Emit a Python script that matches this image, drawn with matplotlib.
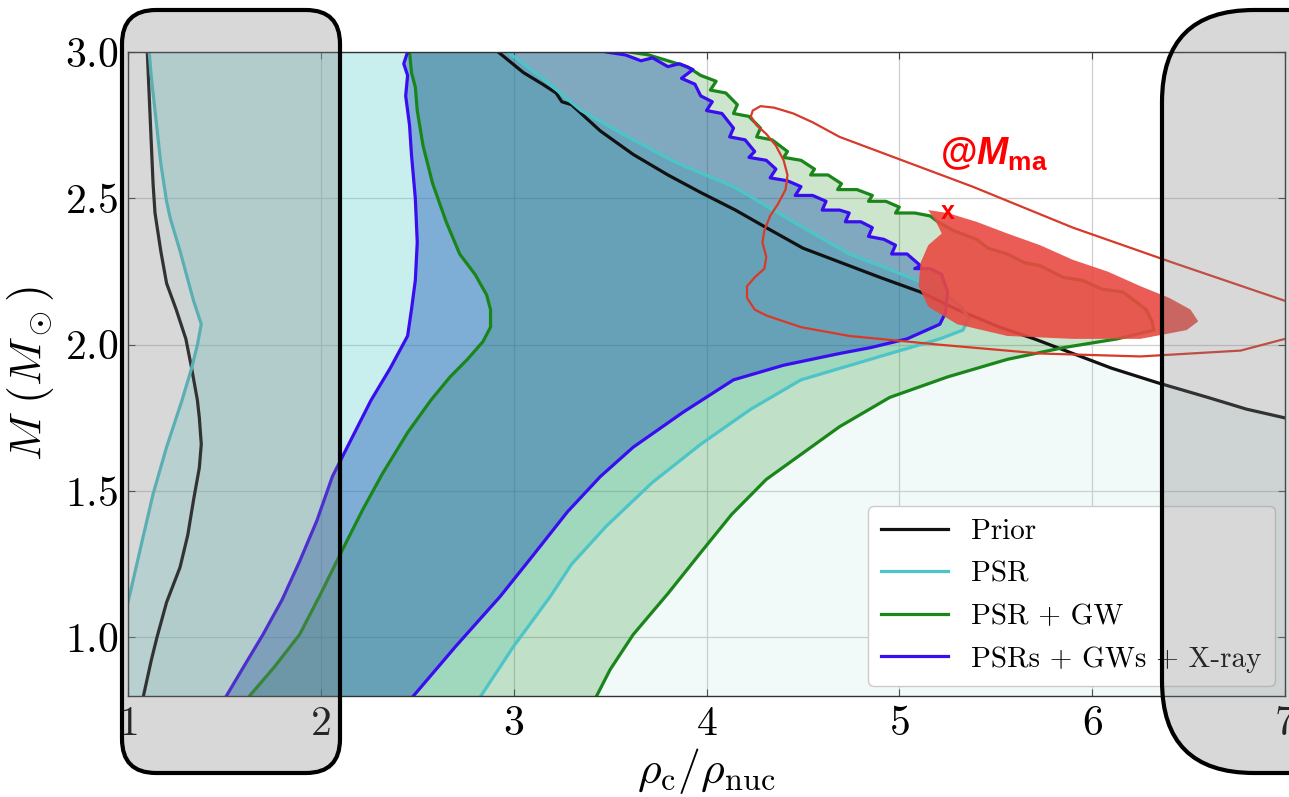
import matplotlib.pyplot as plt
from matplotlib.patches import FancyBboxPatch

plt.rcParams['font.family'] = 'serif'
plt.rcParams['font.serif'] = ['cmr10']
plt.rcParams['mathtext.fontset'] = 'cm'
plt.rcParams['axes.formatter.use_mathtext'] = True
# sans bold set, only used by texts with math_fontfamily='custom'
plt.rcParams['mathtext.rm'] = 'Liberation Sans:bold'
plt.rcParams['mathtext.it'] = 'Liberation Sans:bold:italic'
plt.rcParams['mathtext.bf'] = 'Liberation Sans:bold'

# --- 90% bands in the (rho_c/rho_nuc, M) plane: left edge bottom->top, right edge top->bottom ---
prior_left_x = [1.08, 1.12, 1.15, 1.20, 1.27, 1.31, 1.34, 1.37, 1.38, 1.37, 1.36, 1.33, 1.30, 1.25, 1.20, 1.17, 1.14, 1.13, 1.12, 1.11, 1.10]
prior_left_y = [0.80, 0.92, 1.00, 1.12, 1.24, 1.35, 1.47, 1.58, 1.66, 1.75, 1.81, 1.92, 2.02, 2.12, 2.21, 2.32, 2.45, 2.55, 2.70, 2.85, 3.00]
prior_right_x = [2.92, 3.05, 3.15, 3.22, 3.25, 3.30, 3.45, 3.62, 3.80, 3.97, 4.15, 4.31, 4.50, 4.74, 4.90, 5.11, 5.30, 5.52, 5.70, 5.90, 6.10, 6.34, 6.60, 6.80, 7.00, 7.30]
prior_right_y = [3.00, 2.93, 2.89, 2.86, 2.83, 2.82, 2.73, 2.65, 2.58, 2.52, 2.46, 2.40, 2.33, 2.27, 2.23, 2.18, 2.12, 2.06, 2.02, 1.97, 1.92, 1.87, 1.82, 1.78, 1.75, 1.70]

psr_left_x = [0.89, 1.00, 1.07, 1.13, 1.20, 1.28, 1.33, 1.36, 1.38, 1.34, 1.27, 1.22, 1.20, 1.17, 1.14, 1.12, 1.11]
psr_left_y = [0.80, 1.12, 1.32, 1.49, 1.65, 1.81, 1.92, 2.00, 2.07, 2.15, 2.32, 2.43, 2.49, 2.62, 2.80, 2.92, 3.00]
psr_right_x = [2.97, 3.15, 3.35, 3.62, 3.85, 4.14, 4.45, 4.74, 4.90, 5.09, 5.22, 5.32, 5.36, 5.33, 5.21, 4.90, 4.49, 4.23, 3.97, 3.72, 3.48, 3.30, 3.19, 3.00, 2.83]
psr_right_y = [3.00, 2.91, 2.80, 2.70, 2.62, 2.54, 2.42, 2.31, 2.27, 2.22, 2.18, 2.13, 2.09, 2.05, 2.02, 1.96, 1.88, 1.78, 1.66, 1.53, 1.38, 1.25, 1.14, 0.97, 0.80]

gw_left_x = [1.63, 1.76, 1.89, 2.00, 2.12, 2.22, 2.32, 2.45, 2.57, 2.67, 2.76, 2.84, 2.88, 2.88, 2.86, 2.80, 2.72, 2.65, 2.58, 2.53, 2.50, 2.49, 2.47, 2.46]
gw_left_y = [0.80, 0.90, 1.01, 1.15, 1.31, 1.44, 1.56, 1.70, 1.81, 1.89, 1.95, 2.01, 2.06, 2.12, 2.17, 2.24, 2.31, 2.42, 2.55, 2.68, 2.80, 2.88, 2.93, 3.00]
gw_right_x = [3.60, 3.70, 3.80, 3.90, 3.97, 4.05, 4.02, 4.10, 4.16, 4.14, 4.22, 4.28, 4.26, 4.34, 4.42, 4.40, 4.49, 4.56, 4.54,
              4.63, 4.70, 4.68, 4.78, 4.86, 4.84, 4.93, 5.00, 4.98, 5.08, 5.16, 5.20, 5.28, 5.40, 5.46, 5.56, 5.65, 5.73,
              5.85, 5.95, 6.05, 6.16, 6.22, 6.28, 6.31, 6.32, 6.13, 5.85, 5.56, 5.25, 4.95, 4.69, 4.50, 4.31, 4.13, 3.97,
              3.80, 3.62, 3.50, 3.43]
gw_right_y = [3.00, 2.99, 2.97, 2.95, 2.92, 2.90, 2.87, 2.86, 2.82, 2.79, 2.78, 2.74, 2.71, 2.70, 2.66, 2.64, 2.63, 2.60, 2.58,
              2.58, 2.55, 2.53, 2.53, 2.51, 2.49, 2.49, 2.47, 2.45, 2.45, 2.44, 2.42, 2.39, 2.36, 2.33, 2.31, 2.28, 2.27,
              2.23, 2.22, 2.19, 2.18, 2.15, 2.12, 2.08, 2.05, 2.02, 1.99, 1.95, 1.89, 1.82, 1.72, 1.63, 1.54, 1.42, 1.29,
              1.15, 1.01, 0.89, 0.80]

xray_left_x = [1.51, 1.60, 1.70, 1.80, 1.89, 1.98, 2.06, 2.16, 2.26, 2.36, 2.45, 2.47, 2.49, 2.50, 2.49, 2.47, 2.46, 2.44, 2.45, 2.43, 2.45]
xray_left_y = [0.80, 0.90, 1.01, 1.13, 1.26, 1.40, 1.55, 1.68, 1.81, 1.92, 2.03, 2.12, 2.22, 2.35, 2.50, 2.65, 2.75, 2.85, 2.92, 2.96, 3.00]
xray_right_x = [3.48, 3.58, 3.66, 3.72, 3.80, 3.86, 3.93, 3.87, 3.94, 3.97, 4.03, 4.00, 4.08, 4.14, 4.12, 4.20, 4.25, 4.22, 4.31,
                4.36, 4.33, 4.42, 4.49, 4.46, 4.55, 4.62, 4.60, 4.69, 4.74, 4.72, 4.80, 4.86, 4.84, 4.92, 4.98, 4.96, 5.04,
                5.11, 5.08, 5.16, 5.22, 5.25, 5.24, 5.21, 5.04, 4.85, 4.69, 4.40, 4.14, 3.88, 3.62, 3.45, 3.28, 3.10, 2.93,
                2.70, 2.48]
xray_right_y = [3.00, 2.99, 2.97, 2.98, 2.95, 2.96, 2.94, 2.91, 2.89, 2.85, 2.83, 2.80, 2.79, 2.74, 2.71, 2.70, 2.66, 2.64, 2.63,
                2.60, 2.57, 2.56, 2.54, 2.51, 2.51, 2.49, 2.46, 2.46, 2.45, 2.42, 2.42, 2.40, 2.37, 2.36, 2.34, 2.31, 2.31,
                2.27, 2.26, 2.26, 2.24, 2.18, 2.11, 2.07, 2.02, 1.99, 1.97, 1.93, 1.88, 1.77, 1.65, 1.55, 1.43, 1.28, 1.14,
                0.97, 0.80]

# maximum-mass posterior (filled) and its outer contour
mmax_x = [5.15, 5.25, 5.40, 5.56, 5.73, 5.90, 6.08, 6.25, 6.40, 6.51, 6.55, 6.49, 6.25, 5.90, 5.56, 5.30, 5.15, 5.10, 5.11, 5.15, 5.22, 5.19]
mmax_y = [2.46, 2.45, 2.42, 2.38, 2.34, 2.29, 2.25, 2.20, 2.16, 2.12, 2.08, 2.05, 2.02, 2.02, 2.03, 2.07, 2.13, 2.20, 2.28, 2.34, 2.38, 2.42]
mmax_cont_x = [7.20, 7.00, 6.42, 5.90, 5.38, 4.69, 4.55, 4.45, 4.35, 4.28, 4.24, 4.23, 4.26, 4.31, 4.36, 4.40, 4.42, 4.41,
               4.37, 4.33, 4.30, 4.29, 4.31, 4.30, 4.25, 4.21, 4.21, 4.25, 4.31, 4.40, 4.49, 4.74, 5.21, 5.73, 6.25,
               6.77, 7.00, 7.20]
mmax_cont_y = [2.10, 2.15, 2.28, 2.40, 2.54, 2.71, 2.76, 2.79, 2.81, 2.815, 2.80, 2.78, 2.75, 2.72, 2.68, 2.63, 2.58, 2.53,
               2.48, 2.44, 2.39, 2.35, 2.30, 2.26, 2.23, 2.20, 2.16, 2.12, 2.10, 2.08, 2.06, 2.03, 2.00, 1.97, 1.96,
               1.98, 2.02, 2.06]
mmax_mark = (5.25, 2.453)

fig = plt.figure(figsize=(12.89, 7.97), dpi=100)
ax = fig.add_axes([128 / 1289, 1 - 696 / 797, (1285 - 128) / 1289, (696 - 52) / 797])

bands = [
    ('Prior', prior_left_x, prior_left_y, prior_right_x, prior_right_y, '#111111', '#8fcfcf', 0.12, [(7.30, 0.80)]),
    ('PSR', psr_left_x, psr_left_y, psr_right_x, psr_right_y, '#4cc4c8', '#4fd0d0', 0.25, []),
    ('PSR + GW', gw_left_x, gw_left_y, gw_right_x, gw_right_y, '#1a861a', '#008000', 0.20, []),
    ('PSRs + GWs + X-ray', xray_left_x, xray_left_y, xray_right_x, xray_right_y, '#3a0cf0', '#1050b0', 0.40, []),
]

handles = []
for label, lx, ly, rx, ry, lc, fc, fa, extra in bands:
    px = lx + rx + [p[0] for p in extra]
    py = ly + ry + [p[1] for p in extra]
    ax.fill(px, py, color=fc, alpha=fa, lw=0, zorder=1)
    ax.plot(lx, ly, color=lc, lw=2.3, zorder=2)
    h, = ax.plot(rx, ry, color=lc, lw=2.3, zorder=2, label=label)
    handles.append(h)

ax.fill(mmax_x, mmax_y, color='#e84a42', alpha=0.9, lw=0, zorder=3)
ax.plot(mmax_cont_x, mmax_cont_y, color='#d83a2a', lw=1.6, zorder=4)
ax.text(mmax_mark[0], mmax_mark[1], 'x', color='red', fontsize=18, fontweight='bold',
        family='Liberation Sans', ha='center', va='center', zorder=6)
ax.text(5.21, 2.614, r'$\mathrm{@}M_{\mathrm{ma}}$', color='red', fontsize=27,
        math_fontfamily='custom', ha='left', va='baseline', zorder=6)

ax.set_xlim(1, 7)
ax.set_ylim(0.8, 3.0)
ax.set_xticks([1, 2, 3, 4, 5, 6, 7])
ax.set_yticks([1.0, 1.5, 2.0, 2.5, 3.0])
ax.grid(True, color='#cfcfcf', lw=0.9)
ax.set_axisbelow(True)
ax.tick_params(direction='in', top=True, right=True, length=5, width=0.8,
               labelsize=30, pad=7, color='#444444')
for s in ax.spines.values():
    s.set_color('#333333')
    s.set_linewidth(1.0)

ax.set_xlabel(r'$\rho_{\rm c}/\rho_{\rm nuc}$', fontsize=33, labelpad=2)
ax.set_ylabel(r'$M\ (M_\odot)$', fontsize=33, labelpad=6)

ax.legend(handles=handles, loc='lower right', fontsize=21, handlelength=2.3, handletextpad=0.8,
          labelspacing=0.55, borderpad=0.45, borderaxespad=0.35, fancybox=True,
          framealpha=1, edgecolor='#cccccc')

# grey highlight boxes over the low- and high-density ends
for x0, w, r in [(122, 218, 34), (1162, 300, 92)]:
    box = FancyBboxPatch((x0, 24), w, 763, boxstyle='round,pad=0,rounding_size=%d' % r,
                         transform=None, facecolor=(0.5, 0.5, 0.5, 0.3),
                         edgecolor='black', lw=3, zorder=10)
    fig.add_artist(box)

fig.savefig('out.png', dpi=100)
